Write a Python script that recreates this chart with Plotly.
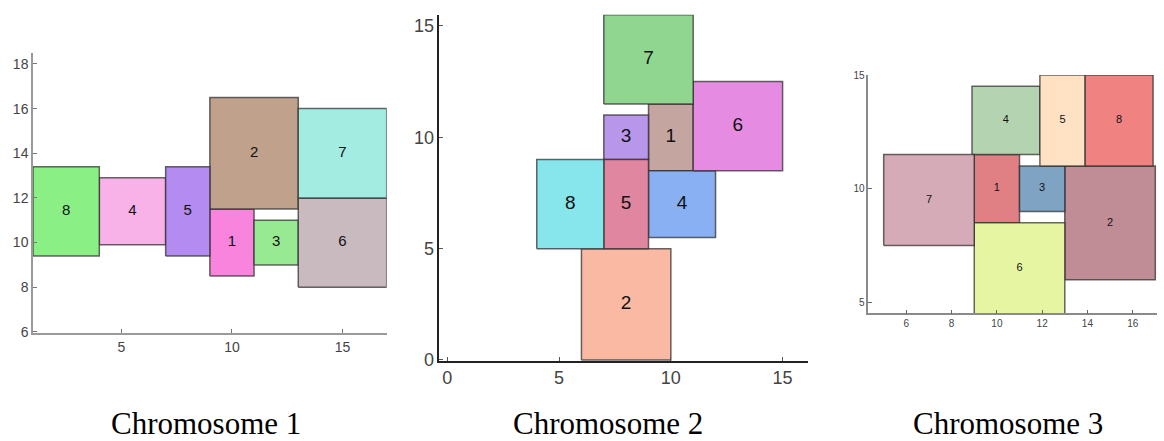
import plotly.graph_objects as go

# ---------------- data ----------------
# Chromosome 1
c1_labels = ["1", "2", "3", "4", "5", "6", "7", "8"]
c1_x0 = [9, 9, 11, 4, 7, 13, 13, 1]
c1_x1 = [11, 13, 13, 7, 9, 17, 17, 4]
c1_y0 = [8.5, 11.5, 9, 9.9, 9.4, 8, 12, 9.4]
c1_y1 = [11.5, 16.5, 11, 12.9, 13.4, 12, 16, 13.4]
c1_colors = ["#F884DE", "#C0A18B", "#98EA92", "#F9B2E8", "#B48BF0", "#C9BABF", "#A2ECE1", "#8AEF84"]

# Chromosome 2
c2_labels = ["1", "2", "3", "4", "5", "6", "7", "8"]
c2_x0 = [9, 6, 7, 9, 7, 11, 7, 4]
c2_x1 = [11, 10, 9, 12, 9, 15, 11, 7]
c2_y0 = [8.5, 0, 9, 5.5, 5, 8.5, 11.5, 5]
c2_y1 = [11.5, 5, 11, 8.5, 9, 12.5, 15.5, 9]
c2_colors = ["#C4A5A0", "#FAB9A2", "#B896EA", "#88B0F2", "#E086A0", "#E58BE2", "#90D590", "#86E6EC"]

# Chromosome 3
c3_labels = ["1", "2", "3", "4", "5", "6", "7", "8"]
c3_x0 = [9, 13, 11, 8.9, 11.9, 9, 5, 13.9]
c3_x1 = [11, 17, 13, 11.9, 13.9, 13, 9, 16.9]
c3_y0 = [8.5, 6, 9, 11.5, 11, 4.5, 7.5, 11]
c3_y1 = [11.5, 11, 11, 14.5, 15, 8.5, 11.5, 15]
c3_colors = ["#E08084", "#C08C96", "#7FA3C2", "#B4D4B1", "#FFE1C3", "#E6F5A2", "#D5ABB7", "#F08282"]

captions = ["Chromosome 1", "Chromosome 2", "Chromosome 3"]

x1_ticks = [5, 10, 15]
y1_ticks = [6, 8, 10, 12, 14, 16, 18]
x2_ticks = [0, 5, 10, 15]
y2_ticks = [0, 5, 10, 15]
x3_ticks = [6, 8, 10, 12, 14, 16]
y3_ticks = [5, 10, 15]

W, H = 1164, 441

fig = go.Figure()

panels = [
    (c1_labels, c1_x0, c1_x1, c1_y0, c1_y1, c1_colors, "x", "y", 15, "rgba(40,40,40,0.7)"),
    (c2_labels, c2_x0, c2_x1, c2_y0, c2_y1, c2_colors, "x2", "y2", 19, "rgba(40,40,40,0.7)"),
    (c3_labels, c3_x0, c3_x1, c3_y0, c3_y1, c3_colors, "x3", "y3", 11, "rgba(40,40,40,0.7)"),
]

for labels, x0s, x1s, y0s, y1s, cols, xa, ya, fs, edge in panels:
    for lab, a, b, c, d, col in zip(labels, x0s, x1s, y0s, y1s, cols):
        fig.add_trace(go.Scatter(
            x=[a, b, b, a, a], y=[c, c, d, d, c],
            mode="lines", fill="toself", fillcolor=col,
            line=dict(color=edge, width=1.5),
            xaxis=xa, yaxis=ya, hoverinfo="skip", showlegend=False))
    fig.add_trace(go.Scatter(
        x=[(a + b) / 2 for a, b in zip(x0s, x1s)],
        y=[(c + d) / 2 for c, d in zip(y0s, y1s)],
        mode="text", text=labels,
        textfont=dict(family="Liberation Sans", size=fs, color="#111111"),
        xaxis=xa, yaxis=ya, hoverinfo="skip", showlegend=False))


def ax(domain, rng, ticks, color, fs, tickcolor):
    return dict(domain=domain, range=rng, tickvals=ticks, showgrid=False, zeroline=False,
                showline=True, linecolor=color, linewidth=1.5, ticks="inside", ticklen=4,
                tickcolor=tickcolor, tickwidth=1, automargin=False,
                tickfont=dict(family="Liberation Sans", size=fs, color="#444444"))


def px_x(a, b):
    return [a / W, b / W]


def px_y(top, bottom):
    return [(H - bottom) / H, (H - top) / H]


fig.update_layout(
    width=W, height=H, margin=dict(l=0, r=0, t=0, b=0, autoexpand=False),
    paper_bgcolor="white", plot_bgcolor="white",
    xaxis=dict(**ax(px_x(33, 386.7), [1, 17], x1_ticks, "#9a9a9a", 14, "#777777"), anchor="y"),
    yaxis=dict(**ax(px_y(52.8, 333), [5.95, 18.5], y1_ticks, "#9a9a9a", 14, "#777777"), anchor="x"),
    xaxis2=dict(**ax(px_x(439.3, 808.3), [-0.36, 16.15], x2_ticks, "#222222", 18, "#555555"), anchor="y2"),
    yaxis2=dict(**ax(px_y(14.8, 361.1), [-0.05, 15.5], y2_ticks, "#222222", 18, "#555555"), anchor="x2"),
    xaxis3=dict(**ax(px_x(868.3, 1156.7), [4.32, 17.06], x3_ticks, "#8a8a8a", 10, "#666666"), anchor="y3"),
    yaxis3=dict(**ax(px_y(75, 313.3), [4.52, 15], y3_ticks, "#8a8a8a", 10, "#666666"), anchor="x3"),
)

cap_x = [206, 608, 1008]
for t, cx in zip(captions, cap_x):
    fig.add_annotation(text=t, x=cx / W, y=(H - 423) / H, xref="paper", yref="paper",
                       xanchor="center", yanchor="middle", showarrow=False, borderpad=0,
                       font=dict(family="Liberation Serif", size=31, color="#000000"))

fig.write_html("out.html", config={"displayModeBar": False},
               post_script="document.body.style.margin='0';document.body.style.padding='0';")
